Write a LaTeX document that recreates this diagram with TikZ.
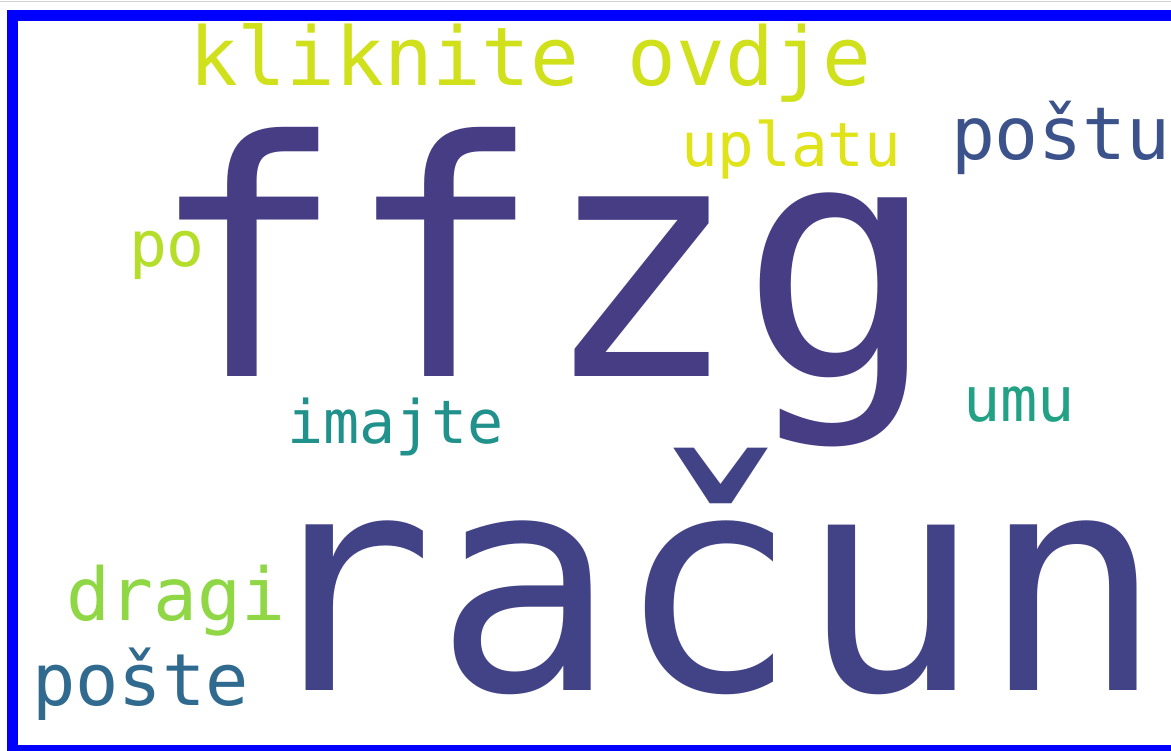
\documentclass[tikz,border=0pt]{standalone}
\usepackage{fontspec}
\usepackage{tikz}
\newfontfamily\cloudfont{DejaVu Sans Mono}
\definecolor{cloudpurple}{HTML}{463D85}
\definecolor{cloudindigo}{HTML}{424386}
\definecolor{cloudblue}{HTML}{3B528B}
\definecolor{cloudsteel}{HTML}{306A8E}
\definecolor{cloudteal}{HTML}{21918C}
\definecolor{cloudsea}{HTML}{22A185}
\definecolor{cloudgreen}{HTML}{8FD744}
\definecolor{cloudlime}{HTML}{B5DE2B}
\definecolor{cloudchart}{HTML}{D0E11C}
\definecolor{cloudyellow}{HTML}{DFE318}

\begin{document}
\begin{tikzpicture}[
    x=1pt, y=-1pt,
    frame line/.style={draw=blue, line width=11pt},
    top rule/.style={draw=gray!35, line width=1.5pt},
    cloud word/.style 2 args={anchor=base west, inner sep=0pt, outer sep=0pt,
      font=\cloudfont\fontsize{#1}{#1}\selectfont, text=#2}
    ]

    \useasboundingbox (0,0) rectangle (1171,751);
    \clip (0,0) rectangle (1171,751);
    \fill[white] (0,0) rectangle (1171,751);

    % frame
    \coordinate (TL) at (12.5,15.5);
    \coordinate (BR) at (1176.5,750.5);
    \draw[top rule] (0,1.5) -- (1171,1.5);
    \draw[frame line] (TL) rectangle (BR);

    % big words
    \node[cloud word={328pt}{cloudpurple}] (ffzg) at (148,377) {ffzg};
    \node[cloud word={303pt}{cloudindigo}] (racun) at (252,690) {račun};
    % small words
    \node[cloud word={81pt}{cloudchart}] (kliknite) at (189,86) {kliknite ovdje};
    \node[cloud word={61pt}{cloudyellow}] (uplatu) at (681,167) {uplatu};
    \node[cloud word={73pt}{cloudblue}] (postu) at (951,160) {poštu};
    \node[cloud word={63pt}{cloudlime}] (po) at (129,267) {po};
    \node[cloud word={60pt}{cloudteal}] (imajte) at (287,443) {imajte};
    \node[cloud word={62pt}{cloudsea}] (umu) at (963,422) {umu};
    \node[cloud word={73pt}{cloudgreen}] (dragi) at (66,620) {dragi};
    \node[cloud word={72pt}{cloudsteel}] (poste) at (32,705) {pošte};

\end{tikzpicture}
\end{document}
